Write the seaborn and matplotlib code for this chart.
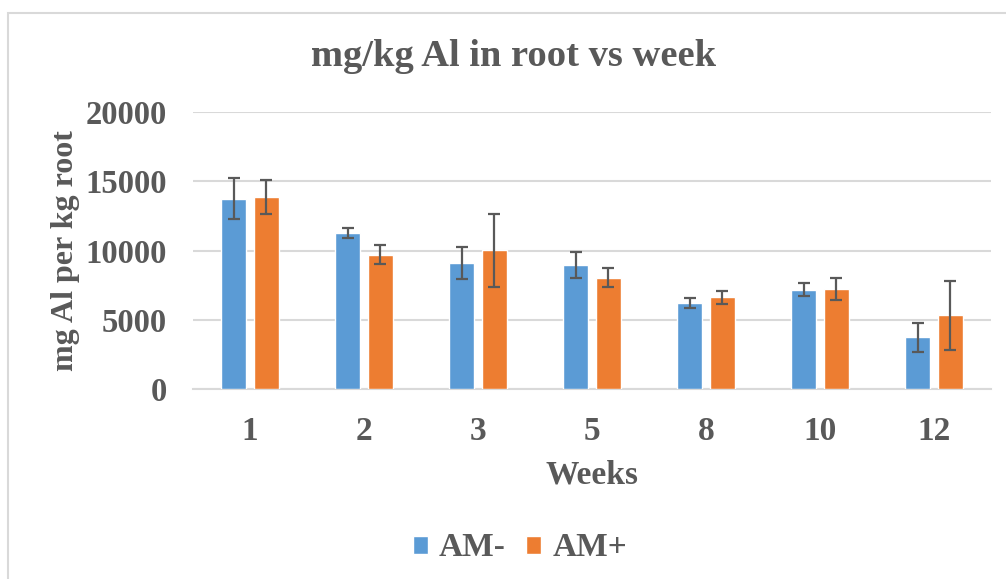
import matplotlib
matplotlib.use("Agg")
import matplotlib.pyplot as plt
from matplotlib.patches import Rectangle, Patch
import seaborn as sns
import pandas as pd

weeks = ["1", "2", "3", "5", "8", "10", "12"]
groups = ["AM-", "AM+"]
am_minus = [13750, 11280, 9130, 8970, 6250, 7190, 3750]
am_plus = [13870, 9710, 10030, 8050, 6640, 7220, 5340]
am_minus_err = [1480, 340, 1150, 950, 360, 460, 1035]
am_plus_err = [1220, 700, 2630, 700, 480, 780, 2490]
y_ticks = [0, 5000, 10000, 15000, 20000]

colors = {"AM-": "#5B9BD5", "AM+": "#ED7D31"}
text_color = "#595959"
grid_color = "#D9D9D9"

df = pd.DataFrame({
    "week": weeks * 2,
    "group": ["AM-"] * len(weeks) + ["AM+"] * len(weeks),
    "value": am_minus + am_plus,
})
errors = {"AM-": am_minus_err, "AM+": am_plus_err}

sns.set_theme(style="white")
plt.rcParams["font.family"] = ["Liberation Serif", "DejaVu Serif"]
plt.rcParams["font.weight"] = "bold"

fig = plt.figure(figsize=(10.06, 5.79), dpi=100)
ax = fig.add_axes([193 / 1006, 1 - 389.3 / 579, 798 / 1006, (389.3 - 112) / 579])

# outer chart frame
fig.patches.append(Rectangle((8 / 1006, -0.05), 1.2, 1 - 13 / 579 + 0.05,
                             transform=fig.transFigure, fill=False,
                             edgecolor="#D9D9D9", linewidth=1.5, zorder=0))

sns.barplot(data=df, x="week", y="value", hue="group", order=weeks,
            hue_order=groups, palette=colors, saturation=1, width=0.572, gap=0.217,
            errorbar=None, ax=ax, legend=False, zorder=3)

for grp, container in zip(groups, ax.containers):
    xs = [b.get_x() + b.get_width() / 2 for b in container]
    hs = [b.get_height() for b in container]
    ax.errorbar(xs, hs, yerr=errors[grp], fmt="none", ecolor=text_color,
                elinewidth=1.6, capsize=4.3, capthick=1.6, zorder=4)

ax.set_ylim(0, 20000)
ax.set_xlim(-0.5, 6.5)
ax.set_yticks(y_ticks)
ax.yaxis.grid(True, color=grid_color, linewidth=1.5, zorder=0)
ax.set_axisbelow(True)
for side in ["top", "right", "left"]:
    ax.spines[side].set_visible(False)
ax.spines["bottom"].set_color(grid_color)
ax.spines["bottom"].set_linewidth(1.5)
ax.tick_params(axis="both", length=0, labelsize=24, labelcolor=text_color)
ax.tick_params(axis="y", labelsize=23.5, pad=19)
ax.tick_params(axis="x", pad=19)
for lbl in ax.get_xticklabels() + ax.get_yticklabels():
    lbl.set_fontweight("bold")

ax.set_xlabel("Weeks", fontsize=24, fontweight="bold", color=text_color, labelpad=9)
ax.set_ylabel("mg Al per kg root", fontsize=23, fontweight="bold", color=text_color, labelpad=4)

fig.text(514 / 1006, 1 - 57 / 579, "mg/kg Al in root vs week", ha="center", va="center",
         fontsize=27.7, fontweight="bold", color=text_color)

handles = [Patch(facecolor=colors[g], label=g) for g in groups]
leg = fig.legend(handles=handles, loc="center", bbox_to_anchor=(520 / 1006, 1 - 548 / 579),
                 ncol=2, frameon=False, fontsize=24, handlelength=0.45, handleheight=0.45,
                 handletextpad=0.33, columnspacing=0.62)
for t in leg.get_texts():
    t.set_color(text_color)
    t.set_fontweight("bold")

fig.savefig("out.png", dpi=100)
